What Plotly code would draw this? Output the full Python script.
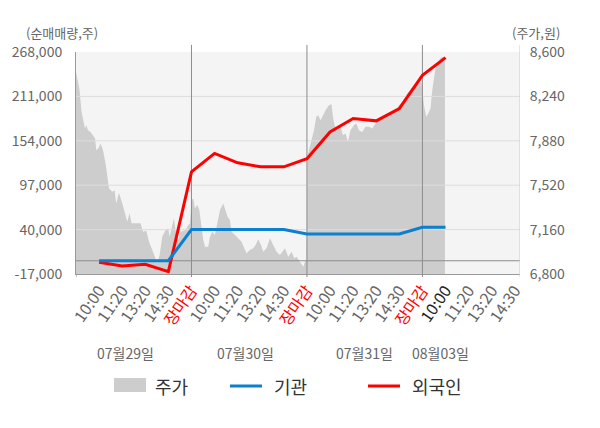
import plotly.graph_objects as go

FONT = "Noto Sans CJK KR"

# x axis: 100 slots per trading day, labels every 20 slots
tick_labels = ['10:00', '11:20', '13:20', '14:30', '장마감'] * 3 + ['10:00', '11:20', '13:20', '14:30']
day_labels = ['07월29일', '07월30일', '07월31일', '08월03일']
day_label_x = [43, 147, 250, 316]
day_breaks = [100, 200, 300]
x_end = 384.5

# net buying (shares), one value per labelled time
flow_x = [20, 40, 60, 80, 100, 120, 140, 160, 180, 200, 220, 240, 260, 280, 300, 320]
institution = [0, 0, 0, 0, 40000, 40000, 40000, 40000, 40000, 34300,
               34300, 34300, 34300, 34300, 42900, 42900]
foreign = [-2000, -6700, -4600, -14000, 114200, 137800, 125700, 120600, 120600, 131000,
           165400, 182600, 179600, 195400, 238100, 260800]

# share price (won)
price_x = [0, 2.0, 3.1, 4.8, 6.3, 7.8, 8.9, 10.4, 12.6, 14.7, 16.5, 17.6, 19.3, 21.3, 23.4,
           25.6, 27.1, 28.6, 31.4, 33.4, 34.9, 37.2, 40.1, 42.4, 44.4, 46.4, 48.1, 55.9, 58.0,
           60.9, 63.2, 66.1, 68.4, 70.4, 72.4, 74.7, 77.6, 79.9, 81.0, 83.4, 84.8, 86.2, 88.6,
           90.6, 94.9, 97.2, 98.7,
           100.1, 101.6, 103.0, 105.0, 106.8, 108.2, 110.2, 111.7, 114.5, 116.0, 118.0, 120.3,
           122.6, 124.7, 127.5, 129.5, 131.3, 133.3, 134.7, 137.7, 140.5, 143.4, 145.7, 147.7,
           150.6, 153.5, 155.5, 157.8, 160.2, 162.2, 165.0, 168.0, 170.8, 173.7, 176.6, 181.0,
           183.8, 186.7, 189.0, 191.0, 193.9, 196.8, 198.3, 199.7,
           200.3, 201.7, 204.0, 206.1, 208.1, 209.8, 211.8, 213.9, 216.1, 219.0, 221.3, 222.5,
           223.9, 226.2, 229.1, 231.2, 233.4, 235.5, 237.7, 240.7, 242.7, 245.0, 247.9, 250.7,
           253.7, 256.5, 259.4, 263.7, 268.1, 272.4, 276.7, 279.7, 282.5, 286.8, 291.1, 294.0,
           297.0, 299.2,
           301.3, 303.3, 305.0, 307.0, 308.5, 310.0, 311.3, 314.3, 316.5, 318.6, 319.5]
price = [8438, 8357, 8290, 8114, 8033, 7980, 8006, 7966, 7952, 7925, 7899, 7804, 7818, 7858, 7804,
         7696, 7588, 7494, 7466, 7480, 7372, 7458, 7372, 7292, 7224, 7292, 7211, 7211, 7143,
         7151, 7062, 6994, 6940, 6887, 6954, 7102, 7156, 7170, 7102, 7211, 7251, 7156, 7075,
         7143, 7156, 7197, 7211,
         7399, 7413, 7332, 7359, 7318, 7224, 7075, 7021, 7021, 7102, 7143, 7116,
         7237, 7318, 7372, 7304, 7264, 7237, 7143, 7116, 7089, 7062, 7008, 6968,
         6994, 7008, 7035, 7081, 7035, 6981, 7008, 7089, 7035, 6981, 6954, 7008,
         6940, 6981, 6927, 6940, 6900, 6859, 6900, 6913,
         7750, 7804, 7885, 7966, 8074, 8087, 8047, 8087, 8128, 8168, 8177, 8074,
         8006, 7966, 7993, 7925, 7939, 7871, 7966, 8006, 8020, 7966, 7952, 7993,
         7993, 7980, 8020, 8061, 8087, 8101, 8114, 8168, 8195, 8263, 8317, 8344,
         8344, 8357,
         8168, 8074, 8101, 8142, 8290, 8398, 8466, 8533, 8560, 8555, 8547]

vol_ticks = [-17000, 40000, 97000, 154000, 211000, 268000]
price_ticks = [6800, 7160, 7520, 7880, 8240, 8600]

GRID = '#dddddd'
DARK = '#8c8c8c'
TXT = '#666666'

tick_vals = [20 * (i + 1) for i in range(len(tick_labels))]
tick_text = []
for i, t in enumerate(tick_labels):
    if t == '장마감':
        tick_text.append('<span style="color:#ff0000">%s</span>' % t)
    elif i == 15:
        tick_text.append('<span style="color:#222222">%s</span>' % t)
    else:
        tick_text.append(t)

fig = go.Figure()

# price area sits on the base subplot
fig.add_trace(go.Scatter(x=price_x, y=price, yaxis='y', mode='lines', fill='tozeroy',
                         fillcolor='#cdcdcd', line=dict(width=0, color='#cdcdcd'),
                         hoverinfo='skip', showlegend=False))

# grid, zero line and day separators drawn over the area, under the flow lines
gx, gy = [], []
for v in vol_ticks[1:-1]:
    gx += [0, x_end, None]
    gy += [v, v, None]
fig.add_trace(go.Scatter(x=gx, y=gy, yaxis='y2', mode='lines',
                         line=dict(color=GRID, width=1), hoverinfo='skip', showlegend=False))
fig.add_trace(go.Scatter(x=[0, x_end], y=[0, 0], yaxis='y2', mode='lines',
                         line=dict(color=DARK, width=1.2), hoverinfo='skip', showlegend=False))
vx, vy = [], []
for b in day_breaks:
    vx += [b, b, None]
    vy += [vol_ticks[0], vol_ticks[-1], None]
fig.add_trace(go.Scatter(x=vx, y=vy, yaxis='y2', mode='lines',
                         line=dict(color=DARK, width=1), hoverinfo='skip', showlegend=False))

fig.add_trace(go.Scatter(x=flow_x, y=foreign, yaxis='y2', mode='lines', name='외국인',
                         line=dict(color='#ff0000', width=3), showlegend=False))
fig.add_trace(go.Scatter(x=flow_x, y=institution, yaxis='y2', mode='lines', name='기관',
                         line=dict(color='#0a80cf', width=3), showlegend=False))

shapes = []
for b in day_breaks:
    shapes.append(dict(type='line', xref='x', yref='paper', x0=b, x1=b, y0=1, y1=1.032,
                       line=dict(color=DARK, width=1)))
for b in [0] + day_breaks:
    shapes.append(dict(type='line', xref='x', yref='paper', x0=b, x1=b, y0=-0.014, y1=0,
                       line=dict(color=DARK, width=1)))
shapes.append(dict(type='line', xref='x', yref='paper', x0=x_end, x1=x_end, y0=-0.014, y1=1.032,
                   line=dict(color='#cccccc', width=1)))

# legend drawn by hand to get the wide box swatch
shapes.append(dict(type='rect', xref='paper', yref='paper', x0=0.0856, x1=0.1577,
                   y0=-0.5315, y1=-0.4685, fillcolor='#cdcdcd', line=dict(width=0)))
shapes.append(dict(type='line', xref='paper', yref='paper', x0=0.3468, x1=0.4189,
                   y0=-0.5045, y1=-0.5045, line=dict(color='#0a80cf', width=3)))
shapes.append(dict(type='line', xref='paper', yref='paper', x0=0.6577, x1=0.7297,
                   y0=-0.5045, y1=-0.5045, line=dict(color='#ff0000', width=3)))

annotations = []
for name, xp in [('주가', 0.1734), ('기관', 0.4414), ('외국인', 0.7523)]:
    annotations.append(dict(text=name, xref='paper', yref='paper', x=xp, y=-0.5045,
                            xanchor='left', yanchor='middle', showarrow=False,
                            font=dict(size=18, color='#333333')))
for lab, xd in zip(day_labels, day_label_x):
    annotations.append(dict(text=lab, xref='x', yref='paper', x=xd, y=-0.356,
                            xanchor='center', yanchor='middle', showarrow=False,
                            font=dict(size=14, color=TXT)))
annotations.append(dict(text='(순매매량,주)', xref='paper', yref='paper', x=0.054, y=1.086,
                        xanchor='right', yanchor='middle', showarrow=False,
                        font=dict(size=13, color=TXT)))
annotations.append(dict(text='(주가,원)', xref='paper', yref='paper', x=1.095, y=1.086,
                        xanchor='right', yanchor='middle', showarrow=False,
                        font=dict(size=13, color=TXT)))

# page body adds an 8px offset, so the figure is 8px smaller on each axis
fig.update_layout(
    width=592, height=420,
    margin=dict(l=68, r=80, t=44, b=154, autoexpand=False),
    paper_bgcolor='white', plot_bgcolor='#f4f4f4',
    font=dict(family=FONT, size=14, color=TXT),
    showlegend=False,
    xaxis=dict(range=[0, x_end], tickvals=tick_vals, ticktext=tick_text, tickangle=-55,
               showgrid=False, zeroline=False, showline=True, linecolor='#999999',
               ticks='', automargin=False, tickfont=dict(size=16, color=TXT)),
    yaxis=dict(side='right', range=[price_ticks[0], price_ticks[-1]], tickvals=price_ticks,
               ticktext=['{:,}'.format(v) for v in price_ticks], showgrid=False,
               zeroline=False, showline=False, ticks='outside', ticklen=6, automargin=False,
               tickcolor='rgba(0,0,0,0)', tickfont=dict(size=14, color=TXT)),
    yaxis2=dict(side='left', overlaying='y', range=[vol_ticks[0], vol_ticks[-1]],
                tickvals=vol_ticks, ticktext=['{:,}'.format(v) for v in vol_ticks],
                showgrid=False, zeroline=False, showline=True, linecolor='#999999',
                ticks='outside', ticklen=10, tickcolor='rgba(0,0,0,0)', automargin=False,
                tickfont=dict(size=14, color=TXT)),
    shapes=shapes,
    annotations=annotations,
)

fig.write_html("out.html")
